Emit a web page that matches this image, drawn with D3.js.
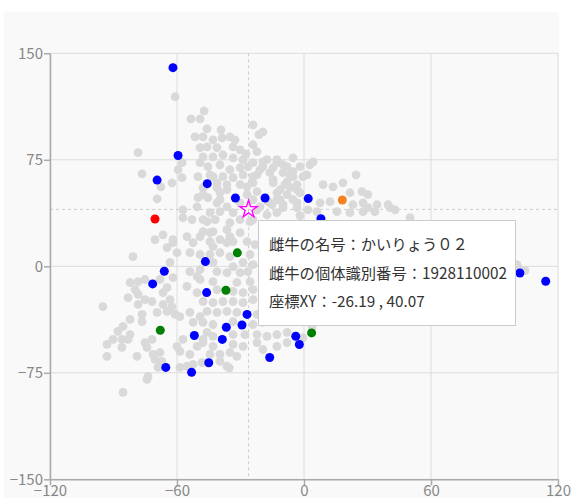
<!DOCTYPE html>
<meta charset = "utf-8">
<style>
body { margin: 0; background: #fff; }
text { font-family: "Noto Sans CJK JP", "Noto Sans", sans-serif; }
.axis text { font-size: 15px; fill: #888; }
.axis path, .axis line { stroke: #aaa; stroke-width: 1.5px; }
.grid line { stroke: #dcdcdc; stroke-width: 1px; }
.tip text { font-size: 15.3px; fill: #333; }
</style>

<svg width="574" height="498"></svg>
<script src="https://d3js.org/d3.v7.min.js"></script>

<script>

// axis ticks
let xTicks = [-120, -60, 0, 60, 120];
let yTicks = [-150, -75, 0, 75, 150];

// all cows (grey), [x, y]
let greyPoints = [
  [-60.9,119.4],[-47.2,109.4],[-53.4,103.8],[-49.1,103.8],[-45.8,96.8],[-39.2,96.1],[-24.1,99.6],[-19.4,94.7],[-21.3,92.7],[-51.5,91.2],
  [-47.7,91.2],[-43.0,89.1],[-38.7,90.5],[-35.0,91.2],[-32.6,89.1],[-78.4,80.0],[-76.5,65.1],[-69.4,47.5],[-67.6,56.0],[-62.4,58.8],
  [-59.5,68.0],[-57.6,62.4],[-57.6,73.0],[-49.1,83.5],[-45.8,84.1],[-41.1,83.5],[-33.5,84.1],[-30.2,82.0],[-27.4,79.2],[-22.2,80.7],
  [-17.5,75.1],[-12.8,73.0],[-8.0,70.2],[-5.2,76.4],[-47.7,77.1],[-43.0,77.1],[-38.3,78.5],[-33.5,76.4],[-28.8,75.1],[-24.1,73.0],
  [-49.1,73.0],[-45.4,70.2],[-39.7,71.5],[-35.0,68.0],[-30.2,69.4],[-26.5,70.2],[-20.8,68.0],[-16.1,65.9],[-9.9,65.9],[-50.1,63.1],
  [-43.0,63.1],[-38.3,63.1],[-33.5,62.4],[-28.8,64.4],[-24.1,63.1],[-14.6,61.0],[-8.0,59.5],[-5.2,63.1],[-47.7,55.4],[-41.1,55.4],
  [-36.4,53.9],[-26.9,56.0],[-22.2,52.6],[-11.3,53.9],[-6.6,55.4],[-50.1,48.3],[-45.4,48.3],[-39.7,46.9],[-36.4,41.9],[-30.2,44.7],
  [-24.1,46.9],[-12.8,46.9],[-5.2,46.9],[-57.2,39.8],[-50.5,41.9],[-44.4,37.8],[-39.7,38.5],[-33.5,37.8],[-22.2,39.8],[-57.2,34.2],
  [-52.9,32.9],[-47.7,32.9],[-42.0,32.9],[-35.0,30.8],[-30.2,32.9],[-24.1,32.9],[-70.4,18.8],[-66.6,22.2],[-61.9,18.8],[-55.3,20.9],
  [-49.1,20.9],[-44.4,23.7],[-39.7,18.8],[-35.0,20.9],[-30.2,23.7],
  [-24.1,85.6],[-19.4,73.6],[-12.8,75.1],[-19.4,70.2],[-14.6,69.4],[-9.9,71.5],[-1.9,70.2],[2.8,71.5],[-44.4,64.4],[-22.2,64.4],
  [-6.6,64.4],[-0.5,63.1],[-41.1,58.8],[-36.4,57.5],[-30.2,57.5],[-24.1,58.8],[-14.6,58.8],[-9.0,57.5],[-3.3,57.5],[-47.7,50.5],
  [-39.7,51.8],[-26.9,50.5],[-12.8,51.8],[-8.0,50.5],[-1.9,51.8],[-41.1,44.7],[-20.8,41.9],[-15.1,43.4],[-9.9,43.4],[-3.3,44.7],
  [-17.5,36.3],[-12.8,37.8],[-45.8,31.4],[-25.5,31.4],[-47.7,24.4],[-43.0,24.4],[-36.4,25.8],[-44.4,17.4],[-33.5,17.4],[-26.9,17.4],
  [4.3,73.6],[-5.2,66.6],[1.4,64.4],[24.6,64.4],[9.0,57.5],[13.7,56.0],[18.4,58.8],[-3.3,53.9],[21.7,51.8],[27.4,52.6],
  [30.2,50.5],[-11.3,46.9],[7.6,44.7],[12.3,45.5],[23.1,43.4],[27.9,44.7],[34.5,43.4],[40.6,41.3],[-9.9,41.3],[-3.3,41.3],
  [1.9,39.8],[6.1,38.5],[15.6,38.5],[21.7,37.8],[27.9,38.5],[33.5,38.5],[50.1,34.2],[-17.0,45.5],[39.7,43.4],[43.0,39.8],
  [-1.9,35.7],[30.2,41.3],
  [-80.8,6.8],[-64.7,13.2],[-61.9,16.6],[-60.0,9.6],[-53.9,9.6],[-49.1,8.3],[-52.4,16.6],[-63.3,2.7],[-53.9,-3.7],[-49.1,-2.3],
  [-50.5,-7.2],[-82.2,-11.4],[-78.4,-10.8],[-75.1,-9.3],[-68.0,-9.3],[-61.9,-8.0],[-64.7,-14.9],[-55.3,-14.2],[-50.5,-18.5],[-79.8,-16.4],
  [-78.4,-19.8],[-83.1,-22.0],[-66.6,-18.5],[-63.3,-23.4],[-66.6,-26.9],[-62.4,-28.4],[-75.1,-23.4],[-71.8,-24.8],[-78.4,-26.9],[-95.0,-28.4],
  [-69.4,-32.5],[-64.7,-31.8],[-60.9,-33.9],[-58.6,-35.4],[-76.5,-33.9],[-76.5,-38.9],[-82.2,-37.4],[-53.9,-32.5],[-49.1,-35.4],[-52.4,-39.5],
  [-85.5,-42.3],[-87.9,-45.9],[-90.2,-51.5],[-93.1,-55.0],[-86.0,-51.5],[-82.2,-48.1],[-83.1,-51.5],[-75.1,-53.7],[-74.2,-57.1],[-71.8,-51.5],
  [-60.0,-56.4],[-57.2,-51.5],[-58.6,-59.9],[-53.9,-62.0],[-50.5,-56.4],[-47.7,-51.5],[-86.0,-57.1],[-93.1,-63.5],[-78.9,-63.5],[-71.3,-62.0],
  [-68.0,-60.7],[-70.4,-65.6],[-67.1,-67.0],[-69.0,-71.2],[-58.6,-71.2],[-55.3,-70.4],[-52.4,-69.1],[-73.7,-77.5],[-74.2,-79.7],[-85.5,-88.8],
  [-43.0,13.8],[-36.4,16.6],[-23.1,15.3],[-44.4,8.3],[-39.7,9.6],[-35.0,6.8],[-25.5,8.3],[-43.0,2.7],[-33.5,-0.3],[-28.8,2.7],
  [-24.1,1.2],[-41.1,-3.7],[-36.4,-4.4],[-30.2,-4.4],[-26.5,-3.7],[-49.1,-9.3],[-43.0,-10.8],[-31.7,-11.4],[-25.5,-10.8],[-41.1,-16.4],
  [-33.5,-17.7],[-28.8,-18.5],[-24.1,-16.4],[-47.7,-24.8],[-43.0,-25.6],[-38.3,-24.8],[-33.5,-24.8],[-28.8,-25.6],[-24.1,-23.4],[-45.8,-31.8],
  [-41.1,-32.5],[-36.4,-31.8],[-31.7,-32.5],[-22.2,-33.9],[-47.7,-39.5],[-43.0,-41.0],[-33.5,-38.9],[-24.1,-41.0],[-19.4,-39.5],[-45.8,-46.6],
  [-43.0,-49.4],[-33.5,-48.1],[-27.9,-48.1],[-22.2,-48.1],[-17.5,-49.4],[-12.8,-48.1],[-8.0,-46.6],[-47.7,-53.7],[-43.0,-56.4],[-33.5,-55.0],
  [-28.8,-56.4],[-22.2,-53.7],[-19.4,-58.6],[-12.8,-56.4],[-8.0,-53.7],[-44.4,-62.0],[-39.7,-62.0],[-35.0,-60.7],[-31.7,-63.5],[-39.7,-67.0],
  [-36.4,-70.4],[-48.2,-67.8],[-35.3,-71.5],[-0.5,-50.2],[3.8,-43.1],[101.1,-0.9],[104.4,-3.1],[100.6,1.2]
];

// highlighted cows
let bluePoints = [
  [-61.9,139.9],[-59.5,78.0],[-69.4,60.7],[-45.7,58.2],[-32.4,48.1],[-18.4,48.1],[2.0,47.7],[8.0,33.5],
  [-46.6,3.3],[-66.0,-3.5],[-71.5,-12.4],[-46.0,-18.5],[-26.9,-33.9],[-29.3,-41.3],[-36.7,-42.9],[-51.8,-48.7],
  [-38.6,-51.5],[-65.3,-71.2],[-53.1,-74.7],[-45.0,-67.9],[-16.2,-64.2],[-3.9,-49.3],[-2.2,-55.1],[102.0,-4.7],[114.2,-10.5]
];
let greenPoints = [[-31.5,9.5],[-36.9,-16.9],[-67.9,-45.0],[3.6,-46.9]];
let redPoints = [[-70.4,33.3]];
let orangePoints = [[18.1,46.7]];

// selected cow (star) and its tooltip lines
let selected = [-26.19, 40.07];
let tipLines = ["雌牛の名号：かいりょう０２", "雌牛の個体識別番号：1928110002", "座標XY：-26.19 , 40.07"];

let svg = d3.select("svg");

svg.append("rect")
  .attr("x", 4).attr("y", 12)
  .attr("width", 555).attr("height", 490)
  .attr("fill", "#f9f9f9");

let x = d3.scaleLinear().domain([-120, 120]).range([50, 558]);
let y = d3.scaleLinear().domain([-150, 150]).range([479.3, 53.3]);

let grid = svg.append("g").attr("class", "grid");
grid.selectAll(".vx").data(xTicks).enter().append("line")
  .attr("x1", d => x(d)).attr("x2", d => x(d))
  .attr("y1", y(150)).attr("y2", y(-150));
grid.selectAll(".hy").data(yTicks).enter().append("line")
  .attr("y1", d => y(d)).attr("y2", d => y(d))
  .attr("x1", x(-120)).attr("x2", x(120));

// crosshair
let cross = svg.append("g")
  .attr("stroke", "#ccc").attr("stroke-dasharray", "3,3").attr("stroke-width", 1);
cross.append("line")
  .attr("x1", x(selected[0])).attr("x2", x(selected[0]))
  .attr("y1", y(150)).attr("y2", y(-150));
cross.append("line")
  .attr("x1", x(-120)).attr("x2", x(120))
  .attr("y1", y(selected[1])).attr("y2", y(selected[1]));

svg.append("g").attr("class", "axis")
  .attr("transform", "translate(0," + y(-150) + ")")
  .call(d3.axisBottom(x).tickValues(xTicks).tickSize(6).tickPadding(0).tickSizeOuter(0));

svg.append("g").attr("class", "axis")
  .attr("transform", "translate(" + x(-120) + ",0)")
  .call(d3.axisLeft(y).tickValues(yTicks).tickSize(6).tickPadding(1).tickSizeOuter(0));

function dots(data, color, r) {
  svg.append("g").selectAll("circle")
    .data(data)
    .enter().append("circle")
    .attr("cx", d => x(d[0]))
    .attr("cy", d => y(d[1]))
    .attr("r", r)
    .attr("fill", color);
}

dots(greyPoints, "#d9d9d9", 4.4);
dots(bluePoints, "#0000ff", 4.5);
dots(greenPoints, "#008000", 4.5);
dots(redPoints, "#ff0000", 4.5);
dots(orangePoints, "#f5821f", 4.5);

svg.append("path")
  .attr("d", d3.symbol().type(d3.symbolStar).size(95)())
  .attr("transform", "translate(" + x(selected[0]) + "," + y(selected[1]) + ")")
  .attr("fill", "none")
  .attr("stroke", "#ff00ff")
  .attr("stroke-width", 1.3);

// tooltip
let tip = svg.append("g").attr("class", "tip");
tip.append("rect")
  .attr("x", 258.5).attr("y", 220.5)
  .attr("width", 257).attr("height", 105)
  .attr("fill", "#fff")
  .attr("stroke", "#ccc");
tip.selectAll("text").data(tipLines).enter().append("text")
  .attr("x", 269)
  .attr("y", (d, i) => 243 + i * 28.5)
  .attr("dominant-baseline", "central")
  .text(d => d);

</script>
